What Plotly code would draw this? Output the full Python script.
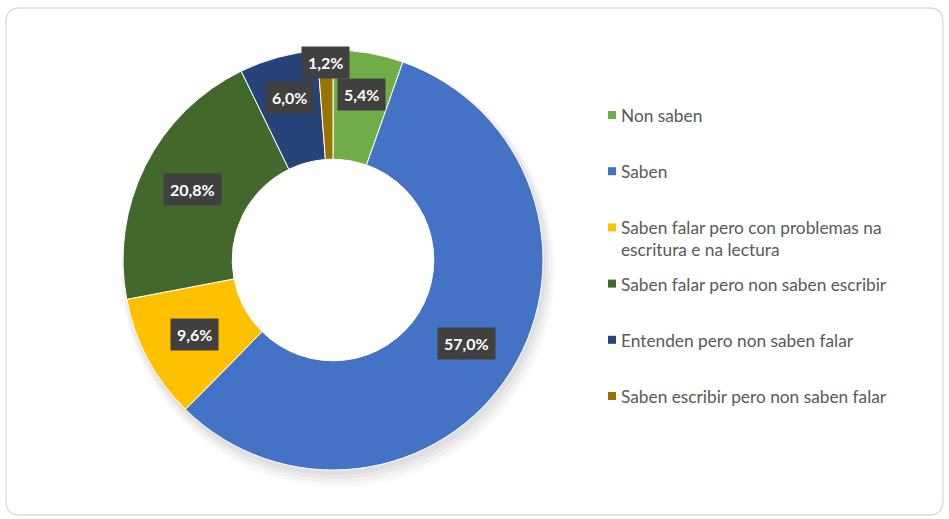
import math
import plotly.graph_objects as go

categories = [
    "Non saben",
    "Saben",
    "Saben falar pero con problemas na escritura e na lectura",
    "Saben falar pero non saben escribir",
    "Entenden pero non saben falar",
    "Saben escribir pero non saben falar",
]
legend_labels = [
    "Non saben",
    "Saben",
    "Saben falar pero con problemas na<br>escritura e na lectura",
    "Saben falar pero non saben escribir",
    "Entenden pero non saben falar",
    "Saben escribir pero non saben falar",
]
values = [5.4, 57.0, 9.6, 20.8, 6.0, 1.2]
colors = ["#70ad47", "#4472c4", "#ffc000", "#43682b", "#264478", "#997300"]

W, H = 949, 519
cx, cy, R = 333, 260, 210  # pixel centre / outer radius
hole = 0.48
FONT = "Lato, Open Sans, sans-serif"


def px2p(x, y):
    return x / W, 1 - y / H


fig = go.Figure(go.Pie(
    labels=categories,
    values=values,
    hole=hole,
    sort=False,
    direction="clockwise",
    rotation=0,
    marker=dict(colors=colors, line=dict(color="white", width=1)),
    textinfo="none",
    hoverinfo="label+percent",
    showlegend=False,
    domain=dict(x=[(cx - R) / W, (cx + R) / W], y=[(H - cy - R) / H, (H - cy + R) / H]),
))

annotations = []
shapes = []


def ring_path(ox, oy, r_out, r_in, n=120):
    pts_o = [px2p(ox + r_out * math.cos(2 * math.pi * i / n), oy + r_out * math.sin(2 * math.pi * i / n)) for i in range(n)]
    pts_i = [px2p(ox + r_in * math.cos(-2 * math.pi * i / n), oy + r_in * math.sin(-2 * math.pi * i / n)) for i in range(n)]
    s = "M " + " L ".join(f"{a:.5f},{b:.5f}" for a, b in pts_o) + " Z "
    s += "M " + " L ".join(f"{a:.5f},{b:.5f}" for a, b in pts_i) + " Z"
    return s


# soft shadow under the donut
for k, a in enumerate([0.035, 0.035, 0.03, 0.025]):
    shapes.append(dict(type="path", xref="paper", yref="paper",
                       path=ring_path(cx + 2 + k, cy + 4 + 2 * k, R + 1 + 2 * k, R * hole + 20),
                       fillcolor=f"rgba(0,0,0,{a})", line=dict(width=0), layer="below"))

# data labels in dark boxes
total = sum(values)
cum = 0.0
for v in values:
    mid = (cum + v / 2) / total * 2 * math.pi
    cum += v
    frac = v / total
    r = R * (0.94 if frac < 0.03 else (0.80 if frac < 0.08 else 0.75))
    px = cx + r * math.sin(mid)
    py = cy - r * math.cos(mid)
    txt = f"{v:.1f}%".replace(".", ",")
    ax, ay = px2p(px, py)
    annotations.append(dict(
        x=ax, y=ay, xref="paper", yref="paper",
        xanchor="center", yanchor="middle",
        text=f"<b>{txt}</b>", showarrow=False,
        font=dict(family=FONT, size=16, color="white"),
        bgcolor="#404040", borderpad=6,
    ))

# custom legend
lx, ly0, dy = 612, 115, 56.2
for i, (lab, col) in enumerate(zip(legend_labels, colors)):
    y = ly0 + i * dy
    x0, y0 = px2p(lx - 4, y + 4)
    x1, y1 = px2p(lx + 4, y - 4)
    shapes.append(dict(type="rect", xref="paper", yref="paper",
                       x0=x0, x1=x1, y0=y0, y1=y1,
                       fillcolor=col, line=dict(width=0)))
    tx, ty = px2p(lx + 7, y - 12)
    annotations.append(dict(
        x=tx, y=ty, xref="paper", yref="paper",
        xanchor="left", yanchor="top", align="left",
        text=lab, showarrow=False,
        font=dict(family=FONT, size=17.3, color="#595959"),
    ))

# rounded chart border
bx0, by0, bx1, by1, rc = 6, 8, 943, 515, 14
pts = [
    ("M", [(bx0 + rc, by0)]),
    ("L", [(bx1 - rc, by0)]),
    ("Q", [(bx1, by0), (bx1, by0 + rc)]),
    ("L", [(bx1, by1 - rc)]),
    ("Q", [(bx1, by1), (bx1 - rc, by1)]),
    ("L", [(bx0 + rc, by1)]),
    ("Q", [(bx0, by1), (bx0, by1 - rc)]),
    ("L", [(bx0, by0 + rc)]),
    ("Q", [(bx0, by0), (bx0 + rc, by0)]),
]
border = " ".join(cmd + " " + " ".join("%.5f,%.5f" % px2p(x, y) for x, y in p) for cmd, p in pts) + " Z"
shapes.append(dict(type="path", xref="paper", yref="paper", path=border,
                   line=dict(color="#d9d9d9", width=1.3), fillcolor="rgba(0,0,0,0)",
                   layer="below"))

fig.update_layout(
    width=W, height=H,
    margin=dict(l=0, r=0, t=0, b=0),
    paper_bgcolor="white",
    plot_bgcolor="white",
    annotations=annotations,
    shapes=shapes,
)

fig.write_html("out.html", config={"displayModeBar": False},
               post_script="document.body.style.margin='0';")
